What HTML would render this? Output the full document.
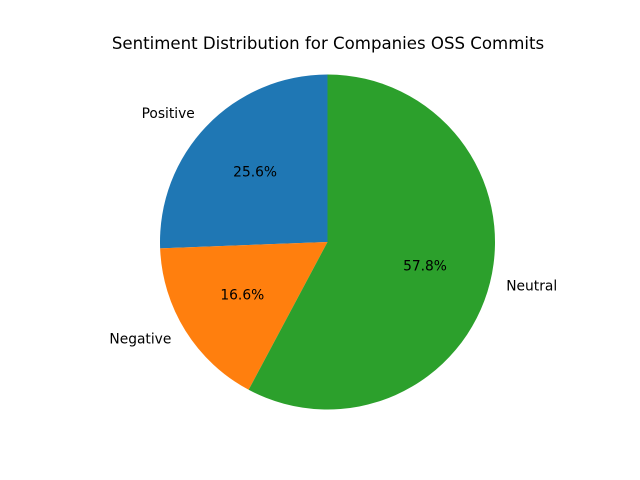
<!DOCTYPE html>
<html><head><meta charset="utf-8"><style>
body{margin:0;background:#fff;}
svg{display:block;font-family:"DejaVu Sans","Liberation Sans",sans-serif;}
</style></head><body>
<svg id="chart" width="640" height="480">
<rect width="640" height="480" fill="#fff"/>
<text x="328" y="49" text-anchor="middle" font-size="16.6" fill="#000">Sentiment Distribution for Companies OSS Commits</text>
</svg>
<script>
const categories = ["Positive", "Negative", "Neutral"];
const values = [25.6, 16.6, 57.8];
const colors = ["#1f77b4", "#ff7f0e", "#2ca02c"];

const svg = document.getElementById('chart');
const NS = 'http://www.w3.org/2000/svg';
const cx = 327.5, cy = 242, r = 167.5;
const total = values.reduce((a, b) => a + b, 0);
let ang = 90;
function pt(a, rr) { const t = a * Math.PI / 180; return [cx + rr * Math.cos(t), cy - rr * Math.sin(t)]; }
values.forEach((v, i) => {
  const sweep = v / total * 360;
  const a0 = ang, a1 = ang + sweep;
  const p0 = pt(a0, r), p1 = pt(a1, r);
  const large = sweep > 180 ? 1 : 0;
  const path = document.createElementNS(NS, 'path');
  path.setAttribute('d', `M${cx},${cy} L${p0[0]},${p0[1]} A${r},${r} 0 ${large} 0 ${p1[0]},${p1[1]} Z`);
  path.setAttribute('fill', colors[i]);
  
  
  svg.appendChild(path);
  const mid = (a0 + a1) / 2;
  const lp = pt(mid, r * 1.1);
  const lab = document.createElementNS(NS, 'text');
  lab.setAttribute('x', lp[0]);
  lab.setAttribute('y', lp[1] + 4);
  lab.setAttribute('font-size', '13.8');
  lab.setAttribute('text-anchor', Math.cos(mid * Math.PI / 180) < 0 ? 'end' : 'start');
  lab.textContent = categories[i];
  
  
  svg.appendChild(lab);
  const pp = pt(mid, r * 0.6);
  const pct = document.createElementNS(NS, 'text');
  pct.setAttribute('x', pp[0]);
  pct.setAttribute('y', pp[1] + 4);
  pct.setAttribute('font-size', '13.8');
  pct.setAttribute('text-anchor', 'middle');
  pct.textContent = (v / total * 100).toFixed(1) + '%';
  
  
  svg.appendChild(pct);
  ang = a1;
});
</script>
</body></html>
